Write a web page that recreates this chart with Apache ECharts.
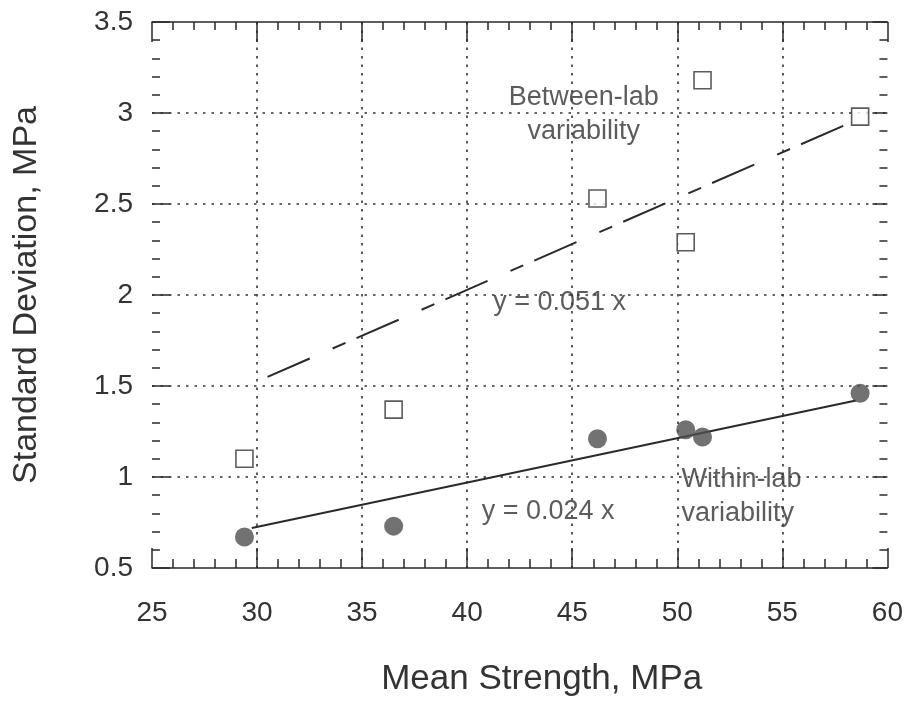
<!DOCTYPE html>
<html><head><meta charset="utf-8">
<script src="https://cdn.jsdelivr.net/npm/echarts@6/dist/echarts.min.js"></script>
<style>html,body{margin:0;padding:0;background:#fff}#c{width:906px;height:702px}</style>
</head><body><div id="c"></div>
<script>
// Data
const meanStrength = [29.4, 36.5, 46.2, 50.4, 51.2, 58.7];
const withinLabSD  = [0.67, 0.73, 1.21, 1.26, 1.22, 1.46];
const betweenLabSD = [1.10, 1.37, 2.53, 2.29, 3.18, 2.98];
// Fitted lines (end points)
const betweenFitX = [30.5, 58.5];
const betweenFitY = [1.55, 2.96];
const withinFitX  = [29.75, 58.5];
const withinFitY  = [0.72, 1.42];
// Axis settings
const xMin = 25, xMax = 60, xStep = 5;
const yMin = 0.5, yMax = 3.5, yStep = 0.5;
const xTitle = 'Mean Strength, MPa';
const yTitle = 'Standard Deviation, MPa';
const annotationTexts = ['Between-lab\nvariability', 'y = 0.051 x', 'y = 0.024 x', 'Within-lab\nvariability'];

const FONT = 'Liberation Sans, Arial, sans-serif';
const TXT = '#333';
const INK = '#2a2a2a';

const zip = (a, b) => a.map((v, i) => [v, b[i]]);

const annotationPlaces = [
  {value: [45.55, 2.99], align: 'center'},
  {value: [44.4, 1.96], align: 'center'},
  {value: [43.85, 0.81], align: 'center'},
  {value: [50.2, 0.89], align: 'left'}
];

const chart = echarts.init(document.getElementById('c'), null, {renderer: 'canvas'});
const gridLine = {show: true, showMinLine: false, showMaxLine: false,
  lineStyle: {color: '#333', width: 1.6, type: [2.5, 6]}};

chart.setOption({
  backgroundColor: '#fff',
  animation: false,
  grid: {left: 152, right: 18, top: 22, bottom: 133, containLabel: false},
  xAxis: [{
    type: 'value', min: xMin, max: xMax, interval: xStep, position: 'bottom',
    name: xTitle, nameLocation: 'middle', nameGap: 94,
    nameTextStyle: {fontFamily: FONT, fontSize: 35, color: TXT, padding: [0, 0, 0, 44]},
    axisLine: {show: true, onZero: false, lineStyle: {color: INK, width: 1.5}},
    axisTick: {show: true, inside: true, length: 20, lineStyle: {color: INK, width: 1.5}},
    minorTick: {show: true, splitNumber: 5, length: 9, lineStyle: {color: INK, width: 1.5}},
    axisLabel: {margin: 31, fontFamily: FONT, fontSize: 28, color: TXT},
    splitLine: gridLine
  }, {
    type: 'value', min: xMin, max: xMax, interval: xStep, position: 'top',
    axisLine: {show: true, onZero: false, lineStyle: {color: INK, width: 1.5}},
    axisTick: {show: true, inside: true, length: 20, lineStyle: {color: INK, width: 1.5}},
    minorTick: {show: true, splitNumber: 5, length: 8, lineStyle: {color: INK, width: 1.5}},
    axisLabel: {show: false}, splitLine: {show: false}
  }],
  yAxis: [{
    type: 'value', min: yMin, max: yMax, interval: yStep, position: 'left',
    name: yTitle, nameLocation: 'middle', nameGap: 108,
    nameTextStyle: {fontFamily: FONT, fontSize: 34, color: TXT},
    axisLine: {show: false},
    axisTick: {show: true, inside: true, length: 18, lineStyle: {color: INK, width: 1.5}},
    minorTick: {show: true, splitNumber: 5, length: 8, lineStyle: {color: INK, width: 1.5}},
    axisLabel: {margin: 19, fontFamily: FONT, fontSize: 28, color: TXT},
    splitLine: gridLine
  }, {
    type: 'value', min: yMin, max: yMax, interval: yStep, position: 'right',
    axisLine: {show: false},
    axisTick: {show: true, inside: true, length: 15, lineStyle: {color: INK, width: 1.5}},
    minorTick: {show: true, splitNumber: 5, length: 8, lineStyle: {color: INK, width: 1.5}},
    axisLabel: {show: false}, splitLine: {show: false}
  }],
  series: [
    {
      name: 'Between-lab fit', type: 'line', data: zip(betweenFitX, betweenFitY),
      symbol: 'none', z: 3,
      lineStyle: {color: INK, width: 2, type: [46, 25, 14, 12]}
    },
    {
      name: 'Within-lab fit', type: 'line', data: zip(withinFitX, withinFitY),
      symbol: 'none', z: 3,
      lineStyle: {color: INK, width: 2, type: 'solid'}
    },
    {
      name: 'Between-lab', type: 'scatter', data: zip(meanStrength, betweenLabSD),
      symbol: 'rect', symbolSize: 17, z: 4,
      itemStyle: {color: '#fff', borderColor: '#333', borderWidth: 1.6}
    },
    {
      name: 'Within-lab', type: 'scatter', data: zip(meanStrength, withinLabSD),
      symbol: 'circle', symbolSize: 19, z: 4,
      itemStyle: {color: '#4f4f4f'}
    },
    {
      name: 'Annotations', type: 'scatter', symbolSize: 0, z: 5, silent: true,
      data: annotationTexts.map((t, i) => ({
        name: t, value: annotationPlaces[i].value,
        label: {
          show: true, position: 'inside', formatter: '{b}',
          align: annotationPlaces[i].align,
          fontFamily: FONT, fontSize: 27, lineHeight: 34, color: TXT
        }
      }))
    }
  ]
});
</script></body></html>
